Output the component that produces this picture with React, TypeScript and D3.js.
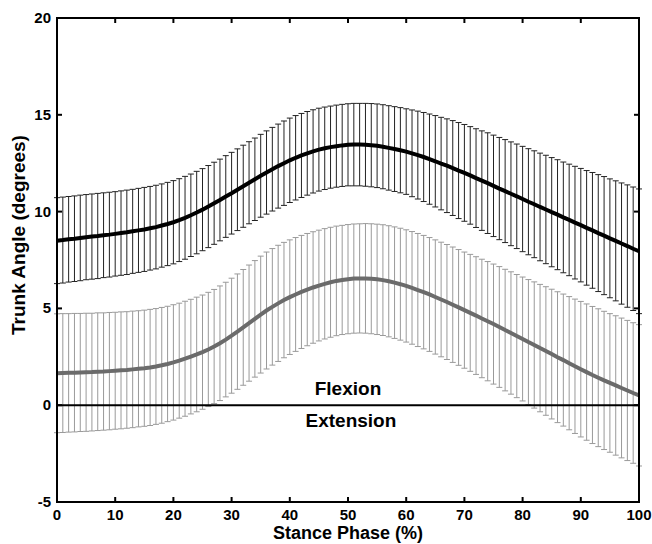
import React from 'react'
import * as d3 from 'd3'

// stance phase 0..100 %
const phase = d3.range(0, 101)

// series 1 (black) mean and SD, degrees
const blackMean = [
  8.50, 8.53, 8.57, 8.60, 8.64, 8.68, 8.71, 8.74, 8.78, 8.81, 8.85,
  8.89, 8.93, 8.98, 9.03, 9.08, 9.14, 9.20, 9.28, 9.36, 9.45,
  9.56, 9.68, 9.81, 9.95, 10.10, 10.26, 10.43, 10.60, 10.78, 10.95,
  11.13, 11.31, 11.49, 11.67, 11.85, 12.02, 12.19, 12.35, 12.50, 12.65,
  12.78, 12.90, 13.01, 13.11, 13.20, 13.27, 13.33, 13.38, 13.42, 13.45,
  13.46, 13.46, 13.45, 13.43, 13.40, 13.35, 13.29, 13.23, 13.17, 13.10,
  13.01, 12.92, 12.82, 12.71, 12.60, 12.48, 12.37, 12.25, 12.12, 12.00,
  11.87, 11.73, 11.60, 11.47, 11.33, 11.19, 11.06, 10.92, 10.79, 10.65,
  10.51, 10.38, 10.24, 10.11, 9.97, 9.84, 9.70, 9.57, 9.43, 9.30,
  9.16, 9.03, 8.89, 8.76, 8.62, 8.49, 8.35, 8.22, 8.08, 7.95,
]
const blackSd = [
  2.22, 2.22, 2.21, 2.21, 2.21, 2.20, 2.20, 2.20, 2.19, 2.19, 2.18,
  2.18, 2.18, 2.17, 2.17, 2.17, 2.16, 2.16, 2.15, 2.15, 2.15,
  2.14, 2.14, 2.13, 2.13, 2.12, 2.12, 2.12, 2.11, 2.11, 2.11,
  2.11, 2.12, 2.12, 2.13, 2.14, 2.15, 2.16, 2.17, 2.18, 2.18,
  2.18, 2.17, 2.16, 2.15, 2.14, 2.13, 2.12, 2.12, 2.12, 2.12,
  2.13, 2.13, 2.14, 2.15, 2.16, 2.17, 2.18, 2.19, 2.20, 2.21,
  2.24, 2.27, 2.30, 2.33, 2.36, 2.39, 2.42, 2.45, 2.48, 2.50,
  2.52, 2.55, 2.57, 2.60, 2.62, 2.64, 2.66, 2.68, 2.70, 2.72,
  2.74, 2.76, 2.78, 2.80, 2.82, 2.84, 2.86, 2.88, 2.91, 2.93,
  2.96, 2.99, 3.02, 3.05, 3.07, 3.10, 3.13, 3.16, 3.19, 3.22,
]

// series 2 (gray) mean and SD
const grayMean = [
  1.65, 1.66, 1.67, 1.68, 1.69, 1.70, 1.71, 1.73, 1.74, 1.76, 1.78,
  1.80, 1.82, 1.85, 1.88, 1.91, 1.95, 2.00, 2.06, 2.13, 2.21,
  2.30, 2.40, 2.51, 2.62, 2.74, 2.88, 3.03, 3.20, 3.39, 3.59,
  3.80, 4.02, 4.24, 4.46, 4.68, 4.89, 5.08, 5.26, 5.43, 5.58,
  5.72, 5.85, 5.97, 6.08, 6.18, 6.27, 6.35, 6.42, 6.47, 6.51,
  6.54, 6.55, 6.55, 6.53, 6.50, 6.46, 6.40, 6.33, 6.25, 6.16,
  6.06, 5.95, 5.84, 5.72, 5.59, 5.46, 5.33, 5.19, 5.05, 4.91,
  4.77, 4.63, 4.48, 4.34, 4.19, 4.04, 3.88, 3.73, 3.57, 3.42,
  3.26, 3.11, 2.95, 2.80, 2.64, 2.48, 2.33, 2.17, 2.01, 1.86,
  1.71, 1.56, 1.42, 1.28, 1.15, 1.02, 0.89, 0.76, 0.63, 0.51,
]
const graySd = [
  3.07, 3.07, 3.06, 3.06, 3.05, 3.05, 3.04, 3.04, 3.03, 3.03, 3.02,
  3.02, 3.01, 3.01, 3.00, 3.00, 3.00, 2.99, 2.99, 2.98, 2.98,
  2.97, 2.97, 2.96, 2.96, 2.95, 2.95, 2.95, 2.96, 2.96, 2.97,
  2.98, 2.99, 3.00, 3.01, 3.02, 3.02, 3.01, 3.00, 2.98, 2.96,
  2.94, 2.92, 2.90, 2.88, 2.86, 2.85, 2.84, 2.83, 2.82, 2.82,
  2.82, 2.82, 2.83, 2.84, 2.85, 2.86, 2.87, 2.88, 2.89, 2.90,
  2.91, 2.92, 2.93, 2.94, 2.95, 2.96, 2.97, 2.98, 2.99, 3.00,
  3.02, 3.04, 3.06, 3.08, 3.10, 3.12, 3.14, 3.16, 3.18, 3.20,
  3.23, 3.26, 3.29, 3.32, 3.35, 3.38, 3.41, 3.44, 3.47, 3.50,
  3.52, 3.54, 3.56, 3.57, 3.58, 3.60, 3.61, 3.62, 3.63, 3.65,
]

const xTicks = [0, 10, 20, 30, 40, 50, 60, 70, 80, 90, 100]
const yTicks = [-5, 0, 5, 10, 15, 20]

const W = 652, H = 544
const left = 57, right = 639, top = 18, bottom = 502
const font = '"Liberation Sans", Arial, Helvetica, sans-serif'

const App = () => {
  const x = d3.scaleLinear().domain([0, 100]).range([left, right])
  const y = d3.scaleLinear().domain([-5, 20]).range([bottom, top])
  const tickLen = 5
  const cap = 3

  const line = (vals: number[]) =>
    d3.line<number>().x((d, i) => x(phase[i])).y(d => y(d))(vals) || ''

  const errorBars = (mean: number[], sd: number[], color: string) => (
    <g stroke={color} strokeWidth={1} fill="none">
      {phase.map((p, i) => {
        const px = x(p)
        const hi = y(mean[i] + sd[i])
        const lo = y(mean[i] - sd[i])
        return (
          <g key={i}>
            <line x1={px} x2={px} y1={hi} y2={lo} />
            <line x1={px - cap} x2={px + cap} y1={hi} y2={hi} />
            <line x1={px - cap} x2={px + cap} y1={lo} y2={lo} />
          </g>
        )
      })}
    </g>
  )

  return (
    <svg width={W} height={H} style={{ position: 'absolute', left: 0, top: 0, background: '#fff' }}>
      <rect x={0} y={0} width={W} height={H} fill="#fff" />

      {errorBars(grayMean, graySd, '#9a9a9a')}
      {errorBars(blackMean, blackSd, '#222')}

      <path d={line(grayMean)} fill="none" stroke="#6b6b6b" strokeWidth={4} />
      <path d={line(blackMean)} fill="none" stroke="#000" strokeWidth={4} />

      {/* zero line */}
      <line x1={left} x2={right} y1={y(0)} y2={y(0)} stroke="#000" strokeWidth={2} />

      <g fontFamily={font} fontWeight="bold" fontSize={19} textAnchor="middle" fill="#000">
        <text x={x(50)} y={y(0) - 10}>Flexion</text>
        <text x={x(50.5)} y={y(0) + 22}>Extension</text>
      </g>

      {/* frame */}
      <rect x={left} y={top} width={right - left} height={bottom - top} fill="none" stroke="#000" strokeWidth={2} />

      {/* ticks inside on all sides */}
      <g stroke="#000" strokeWidth={2}>
        {xTicks.map(t => (
          <g key={'x' + t}>
            <line x1={x(t)} x2={x(t)} y1={bottom} y2={bottom - tickLen} />
            <line x1={x(t)} x2={x(t)} y1={top} y2={top + tickLen} />
          </g>
        ))}
        {yTicks.map(t => (
          <g key={'y' + t}>
            <line x1={left} x2={left + tickLen} y1={y(t)} y2={y(t)} />
            <line x1={right} x2={right - tickLen} y1={y(t)} y2={y(t)} />
          </g>
        ))}
      </g>

      <g fontFamily={font} fontWeight="bold" fontSize={15} fill="#000">
        {xTicks.map(t => (
          <text key={'xl' + t} x={x(t)} y={bottom + 18} textAnchor="middle">{t}</text>
        ))}
        {yTicks.map(t => (
          <text key={'yl' + t} x={left - 6} y={y(t) + 5} textAnchor="end">{t}</text>
        ))}
      </g>

      <text x={348} y={539} fontFamily={font} fontWeight="bold" fontSize={18} textAnchor="middle">
        Stance Phase (%)
      </text>
      <text transform={`translate(25,235) rotate(-90)`} fontFamily={font} fontWeight="bold" fontSize={19} textAnchor="middle">
        Trunk Angle (degrees)
      </text>
    </svg>
  )
}

export default App
